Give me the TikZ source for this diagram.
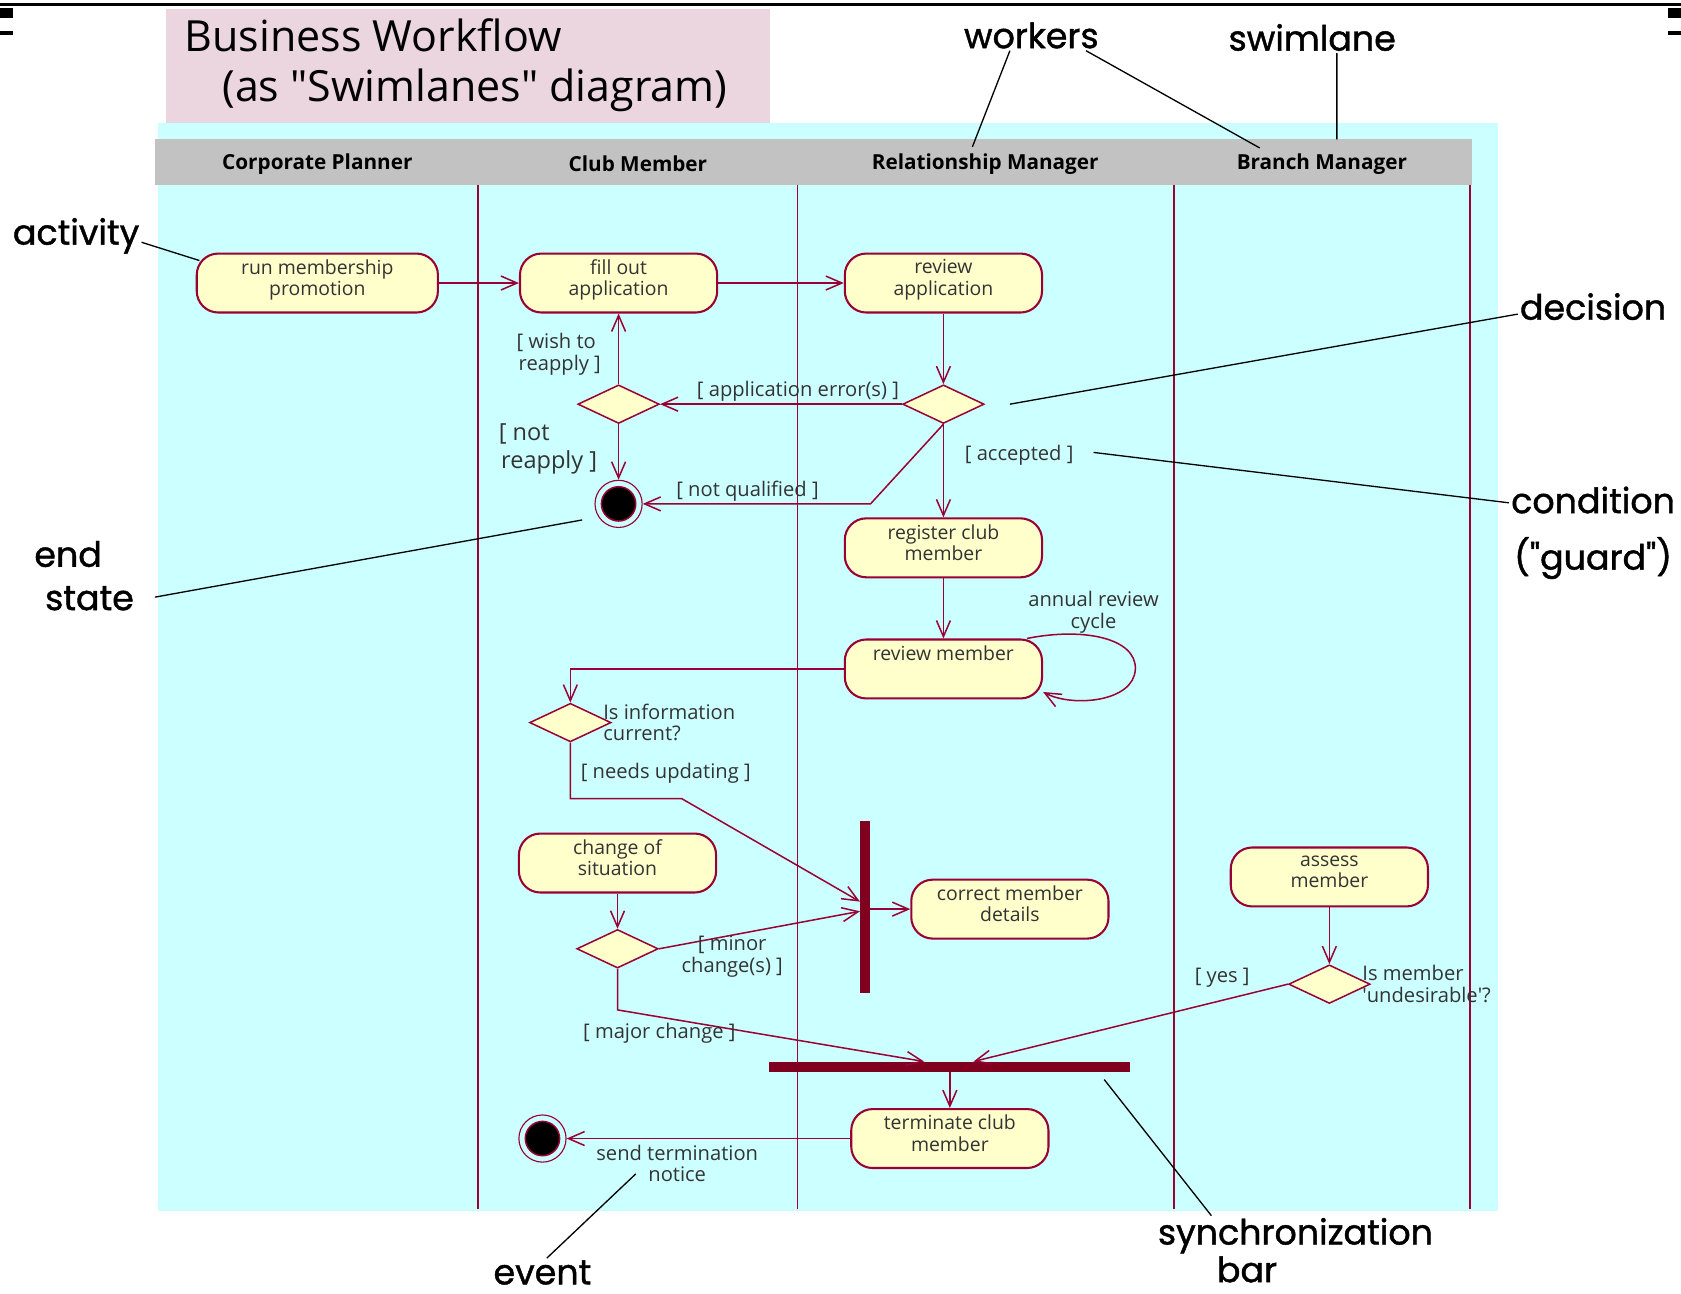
\documentclass[tikz,border=0pt]{standalone}
\usepackage{fontspec}
\setmainfont{Open Sans}
\newfontfamily\notefont{Poppins}[FakeBold=1.2]
\usepackage{tikz}
\usetikzlibrary{arrows.meta}
\usetikzlibrary{positioning}
\usetikzlibrary{shapes.geometric}
\definecolor{lanecyan}{HTML}{CCFFFF}
\definecolor{titlepink}{HTML}{EBD5DE}
\definecolor{headgrey}{HTML}{C2C2C2}
\definecolor{laneline}{HTML}{990033}
\definecolor{barred}{HTML}{800020}
\definecolor{cream}{HTML}{FFFFCC}
\definecolor{inkgrey}{HTML}{333333}

\begin{document}
\begin{tikzpicture}[
    x=0.02cm, y=-0.02cm,
    activity/.style={rectangle, draw=laneline, fill=cream, line width=1.1pt,
      rounded corners=0.4cm, minimum width=3.68cm, minimum height=1.1cm,
      inner ysep=2pt, text depth=0.2cm,
      align=center, font=\fontsize{10.3}{11.5}\selectfont, text=inkgrey},
    decision/.style={diamond, draw=laneline, fill=cream, line width=0.8pt,
      inner sep=0pt, minimum width=1.52cm, minimum height=0.72cm},
    endstate/.style={circle, draw=laneline, line width=0.6pt, fill=lanecyan,
      minimum size=0.88cm, inner sep=0pt,
      path picture={\filldraw[fill=black, draw=laneline, line width=0.8pt]
        (path picture bounding box.center) circle (0.32cm);}},
    syncbar/.style={rectangle, fill=barred, inner sep=0pt},
    lanehead/.style={font=\fontsize{11}{12}\selectfont\bfseries},
    guard/.style={font=\fontsize{10.7}{11.5}\selectfont, text=inkgrey,
      align=center, inner sep=1pt},
    flow/.style={draw=laneline, line width=0.8pt,
      -{Straight Barb[length=3mm, width=2.6mm]}},
    note/.style={font=\notefont\fontsize{18.5}{23}\selectfont, align=left,
      inner sep=1pt},
    pointer/.style={draw=black, line width=0.7pt},
  ]
  \useasboundingbox (0,0) rectangle (1568,1207);

  % frame marks
  \fill[black] (0,3) rectangle (1568,6);
  \fill[black] (0,7) rectangle (12,17);
  \fill[black] (0,29) rectangle (12,33);
  \fill[black] (1556,7) rectangle (1568,17);
  \fill[black] (1556,29) rectangle (1568,33);

  % title and lanes
  \fill[lanecyan] (147,115) rectangle (1397,1130);
  \fill[titlepink] (155,8) rectangle (718,115);
  \node[anchor=north west, align=left, inner sep=0pt,
    font=\fontsize{22.8}{26.5}\selectfont] (title) at (172,17)
    {Business Workflow\\\hspace*{0.7cm}(as \textquotedbl Swimlanes\textquotedbl{} diagram)};

  \fill[headgrey] (145,130) rectangle (1373,173);
  \node[lanehead] (hdplanner) at (296,153) {Corporate Planner};
  \node[lanehead] (hdmember) at (595,153) {Club Member};
  \node[lanehead] (hdrelation) at (919,153) {Relationship Manager};
  \node[lanehead] (hdbranch) at (1233,153) {Branch Manager};
  \foreach \lx in {446,744,1095,1371}
    \draw[laneline, line width=0.8pt] (\lx,173) -- (\lx,1128);

  % activities, decisions, bars
  \node[activity, minimum width=4.5cm] (promo) at (296,264) {run membership\\promotion};
  \node[activity] (fillout) at (577,264) {fill out\\application};
  \node[activity] (reviewapp) at (880,264) {review\\application};
  \node[decision] (errdec) at (880,377) {};
  \node[decision] (reapplydec) at (577,377) {};
  \node[endstate] (endone) at (577,470) {};
  \node[activity] (register) at (880,511) {register club\\member};
  \node[activity] (reviewmem) at (880,624) {review member\\\mbox{}};
  \node[decision] (currentdec) at (532,674) {};
  \node[activity] (change) at (576,805) {change of\\situation};
  \node[decision] (changedec) at (576,885) {};
  \node[syncbar, minimum width=0.18cm, minimum height=3.22cm] (vbar) at (807,846) {};
  \node[activity] (correct) at (942,848) {correct member\\details};
  \node[activity] (assess) at (1240,818) {assess\\member};
  \node[decision] (undesdec) at (1240,918) {};
  \node[syncbar, minimum width=6.74cm, minimum height=0.18cm] (hbar) at (886,995) {};
  \node[activity] (terminate) at (886,1062) {terminate club\\member};
  \node[endstate] (endtwo) at (506,1062) {};

  % flows
  \draw[flow] (promo) -- (fillout);
  \draw[flow] (fillout) -- (reviewapp);
  \draw[flow] (reviewapp) -- (errdec);
  \draw[flow] (errdec) -- node[guard, above, pos=0.43] {[ application error(s) ]} (reapplydec);
  \draw[flow] (reapplydec) -- node[guard, left=8pt, pos=0.42, align=left]
    {[ wish to\\\hspace*{0.1em}reapply ]} (fillout);
  \draw[flow] (reapplydec) -- node[guard, left=10pt, pos=0.45, align=left,
    font=\fontsize{12.5}{15}\selectfont] {[ not\\\hspace*{0.1em}reapply ]} (endone);
  \coordinate (nqbend) at (812,470);
  \draw[flow] (errdec.south) -- (nqbend) -- node[guard, above, pos=0.54] {[ not qualified ]} (endone);
  \draw[flow] (errdec) -- node[guard, right=10pt, pos=0.33] {[ accepted ]} (register);
  \draw[flow] (register) -- (reviewmem);
  \draw[flow] ([xshift=-0.3cm]reviewmem.north east) .. controls (1010,585) and (1060,595) .. (1059,624)
    .. controls (1058,655) and (1000,660) .. ([yshift=0.14cm]reviewmem.south east);
  \node[guard] (cyclelbl) at (1020,571) {annual review\\cycle};
  \draw[flow] (reviewmem.west) -| (currentdec.north);
  \node[guard, anchor=west, align=left] (currentq) at ([xshift=-0.2cm]currentdec.east)
    {Is information\\current?};
  \coordinate (updbend) at (636,745);
  \draw[flow] (currentdec.south) |- (updbend) -- ([yshift=0.1cm]vbar.west);
  \node[guard] (updlbl) at (621,721) {[ needs updating ]};
  \draw[flow] (change) -- (changedec);
  \draw[flow] (changedec.east) -- ([yshift=-0.08cm]vbar.west);
  \node[guard] (minorlbl) at (683,892) {[ minor\\change(s) ]};
  \coordinate (majbend) at (576,942);
  \draw[flow] (changedec.south) -- (majbend) -- ([xshift=-0.48cm]hbar.north);
  \node[guard] (majlbl) at (615,964) {[ major change ]};
  \draw[flow] (vbar.east |- correct.west) -- (correct.west);
  \draw[flow] (assess) -- (undesdec);
  \node[guard, anchor=west, align=left] (undesq) at ([xshift=-0.2cm]undesdec.east)
    {Is member\\\textquotesingle undesirable\textquotesingle ?};
  \draw[flow] (undesdec.west) -- ([xshift=0.44cm]hbar.north);
  \node[guard] (yeslbl) at (1140,912) {[ yes ]};
  \draw[flow] (hbar.south) -- (terminate);
  \draw[flow] (terminate) -- node[guard, below=2pt, pos=0.61] {send termination\\notice} (endtwo);

  % annotations
  \node[note] (workers) at (962,33) {workers};
  \node[note] (swimlane) at (1224,35) {swimlane};
  \node[note] (activitynote) at (71,220) {activity};
  \node[note] (decisionnote) at (1486,286) {decision};
  \node[note, align=center] (conditionnote) at (1486,497) {condition\\[7pt]("guard")};
  \node[note, anchor=west] (endnote) at (30,537) {end\\\hspace*{0.2cm}state};
  \node[note] (eventnote) at (506,1187) {event};
  \node[note, anchor=north west] (syncnote) at (1078,1134) {synchronization\\[-3pt]\hspace*{1.1cm}bar};

  \coordinate (workerstipa) at (907,137);
  \coordinate (workerstipb) at (1175,138);
  \coordinate (swimlanetip) at (1247,130);
  \coordinate (activitytip) at (186,243);
  \coordinate (decisiontip) at (942,377);
  \coordinate (conditiontip) at (1020,422);
  \coordinate (endtip) at (543,485);
  \coordinate (eventtip) at (593,1095);
  \coordinate (synctip) at (1030,1007);
  \draw[pointer] ([xshift=-0.4cm]workers.south) -- (workerstipa);
  \draw[pointer] ([xshift=1.02cm]workers.south) -- (workerstipb);
  \draw[pointer] ([xshift=0.46cm]swimlane.south) -- (swimlanetip);
  \draw[pointer] ([yshift=-0.12cm]activitynote.east) -- (activitytip);
  \draw[pointer] ([yshift=-0.14cm]decisionnote.west) -- (decisiontip);
  \draw[pointer] ([yshift=0.56cm]conditionnote.west) -- (conditiontip);
  \draw[pointer] ([xshift=0.35cm, yshift=-0.4cm]endnote.east) -- (endtip);
  \draw[pointer] ([xshift=0.08cm]eventnote.north) -- (eventtip);
  \draw[pointer] ([xshift=1.04cm]syncnote.north west) -- (synctip);
\end{tikzpicture}
\end{document}
